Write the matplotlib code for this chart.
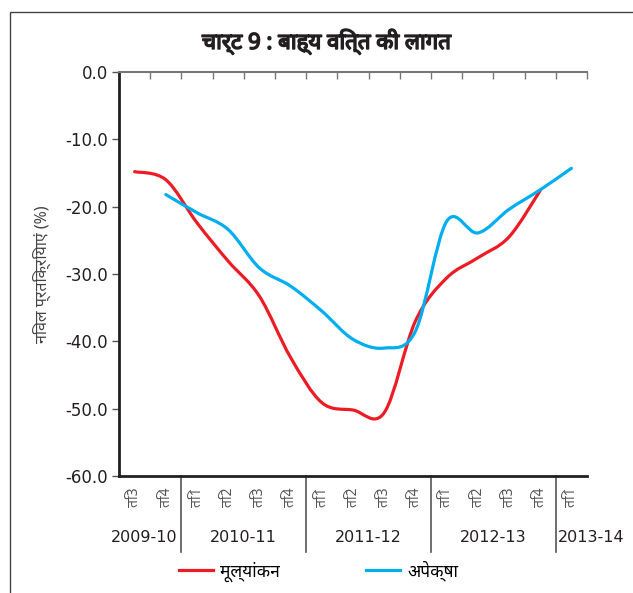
import matplotlib
matplotlib.use("Agg")
import matplotlib.pyplot as plt
import numpy as np
from matplotlib.path import Path
from matplotlib.patches import PathPatch, Rectangle
from matplotlib.lines import Line2D
import matplotlib.transforms as mtransforms
import matplotlib.patheffects as pe

plt.rcParams["axes.unicode_minus"] = False

# quarters: Q3 2009-10 ... Q1 2013-14
quarters = ["ति3", "ति4",
            "ति1", "ति2", "ति3", "ति4",
            "ति1", "ति2", "ति3", "ति4",
            "ति1", "ति2", "ति3", "ति4",
            "ति1"]
years = ["2009-10", "2010-11", "2011-12", "2012-13", "2013-14"]
year_bounds = [1.5, 5.5, 9.5, 13.5]

# मूल्यांकन (assessment): Q3 2009-10 .. Q4 2012-13
assessment = [-14.8, -16.0, -22.4, -28.1, -33.3, -42.4, -49.1, -50.2,
              -50.6, -37.0, -30.6, -27.6, -24.5, -17.6]
# अपेक्षा (expectation): Q4 2009-10 .. Q1 2013-14
expectation = [-18.2, -20.9, -23.4, -29.1, -31.8, -35.5, -39.7, -41.0,
               -38.5, -22.2, -23.9, -20.4, -17.5, -14.3]

RED = "#ed1c24"
BLUE = "#00aeef"
DEV = ["Noto Sans", "DejaVu Sans"]


def smooth_path(x, y):
    # excel-style smoothed line: cubic bezier through the points
    p = np.column_stack([x, y]).astype(float)
    verts = [p[0]]
    codes = [Path.MOVETO]
    n = len(p)
    for i in range(n - 1):
        p0 = p[i - 1] if i > 0 else p[i]
        p3 = p[i + 2] if i + 2 < n else p[i + 1]
        c1 = p[i] + (p[i + 1] - p0) / 6.0
        c2 = p[i + 1] - (p3 - p[i]) / 6.0
        verts += [c1, c2, p[i + 1]]
        codes += [Path.CURVE4] * 3
    return Path(verts, codes)


fig = plt.figure(figsize=(6.33, 5.93), dpi=100)
ax = fig.add_axes([119 / 633, 1 - 476 / 593, 468 / 633, 404 / 593])

xr = np.arange(len(assessment))
xb = np.arange(1, 1 + len(expectation))
ax.add_patch(PathPatch(smooth_path(xr, assessment), fill=False,
                       edgecolor=RED, lw=2.3, capstyle="round"))
ax.add_patch(PathPatch(smooth_path(xb, expectation), fill=False,
                       edgecolor=BLUE, lw=2.3, capstyle="round"))

ax.set_xlim(-0.5, len(quarters) - 0.5)
ax.set_ylim(-60, 0)

ax.set_yticks(np.arange(-60, 1, 10))
ax.set_yticklabels(["%.1f" % v for v in np.arange(-60, 1, 10)])
ax.tick_params(axis="y", direction="out", length=5, width=1, color="#555555",
               labelsize=12, pad=3, labelcolor="#231f20")

ax.set_xticks(xr.tolist() + [14])
ax.set_xticklabels(quarters, rotation=90, fontfamily=DEV)
ax.tick_params(axis="x", which="major", length=0, pad=8, labelsize=10,
               labelcolor="#555555")
ax.set_xticks(np.arange(0.5, len(quarters), 1.0), minor=True)
ax.tick_params(axis="x", which="minor", bottom=False, top=True,
               direction="in", length=5, width=1, color="#777777")

for s in ["left", "bottom"]:
    ax.spines[s].set_linewidth(2)
    ax.spines[s].set_color("#231f20")
ax.spines["top"].set_color("#777777")
ax.spines["top"].set_linewidth(1.5)
ax.spines["right"].set_visible(False)

# year separators and year labels under the quarter labels
tr = mtransforms.blended_transform_factory(ax.transData, ax.transAxes)
for b in year_bounds:
    ax.plot([b, b], [0, -76 / 404], color="#555555", lw=1.2,
            transform=tr, clip_on=False)
year_pos = [0.3, 3.5, 7.5, 11.5, 14.63]
for xp, yl in zip(year_pos, years):
    ax.text(xp, -62 / 404, yl, transform=tr, ha="center", va="center",
            fontsize=11.5, color="#231f20")

ax.set_ylabel("निवल प्रतिक्रियाएं (%)", fontfamily=DEV, fontsize=11.5,
              color="#444444")
ax.yaxis.set_label_coords(-68 / 468, 0.5)

# title; the devanagari face has no bold, so thicken it with a stroke
fig.text(327 / 633, 1 - 42 / 593, "चार्ट 9 : बाह्य वित्त की लागत",
         ha="center", va="center", fontsize=16, fontweight="bold",
         family=DEV, color="#231f20",
         path_effects=[pe.withStroke(linewidth=1.1, foreground="#231f20")])

handles = [Line2D([], [], color=RED, lw=2.3),
           Line2D([], [], color=BLUE, lw=2.3)]
fig.legend(handles, ["मूल्यांकन", "अपेक्षा"], ncol=2, frameon=False,
           loc="center left", bbox_to_anchor=(179 / 633, 1 - 571 / 593),
           borderpad=0, borderaxespad=0, handlelength=1.95,
           handletextpad=0.4, columnspacing=5.0,
           prop={"family": DEV, "size": 12.5})

# outer frame of the exhibit
fig.add_artist(Rectangle((10 / 633, -0.2), 2, 0.2 + 1 - 12 / 593,
                         transform=fig.transFigure, fill=False,
                         edgecolor="#444444", lw=1))

fig.savefig("out.png", dpi=100)
